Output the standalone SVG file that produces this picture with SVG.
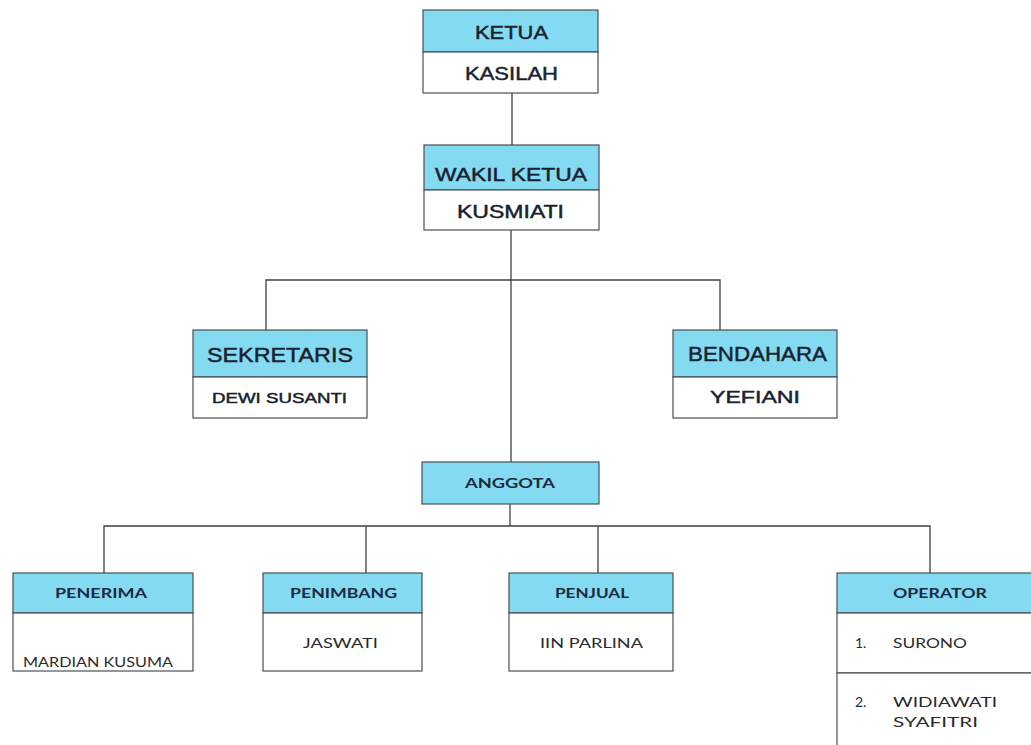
<svg xmlns="http://www.w3.org/2000/svg" width="1031" height="745" viewBox="0 0 1031 745">
<style>
.hd{fill:#84daf0;stroke:#4a4f55;stroke-width:1.2}
.bd{fill:#ffffff;stroke:#4a4f55;stroke-width:1.2}
.t1{font-family:"Liberation Sans",Arial,sans-serif;fill:#18212e;stroke:#18212e;stroke-width:0.45;text-anchor:middle}
.t2{font-family:Lato,"Open Sans",sans-serif;fill:#1b2a40;text-anchor:middle;font-weight:bold}
.t3{font-family:Lato,"Open Sans",sans-serif;fill:#2a2a2a}
.ln{stroke:#3f3f3f;stroke-width:1.3;fill:none}
</style>
<rect width="1031" height="745" fill="#ffffff"/>
<g id="connectors">
<path class="ln" d="M512 93V145"/>
<path class="ln" d="M511 230V462"/>
<path class="ln" d="M266 330V280H720V330"/>
<path class="ln" d="M510 504V526"/>
<path class="ln" d="M104 573V526H930V573"/>
<path class="ln" d="M366 526V573"/>
<path class="ln" d="M598 526V573"/>
</g>
<g id="ketua">
<rect class="hd" x="423" y="10" width="175" height="42"/>
<rect class="bd" x="423" y="52" width="175" height="41"/>
<text class="t1" x="511.5" y="39" font-size="18" textLength="73" lengthAdjust="spacingAndGlyphs">KETUA</text>
<text class="t1" x="511.5" y="80" font-size="18" textLength="93" lengthAdjust="spacingAndGlyphs">KASILAH</text>
</g>
<g id="wakil">
<rect class="hd" x="424" y="145" width="175" height="45"/>
<rect class="bd" x="424" y="190" width="175" height="40"/>
<text class="t1" x="511" y="181" font-size="18" textLength="152" lengthAdjust="spacingAndGlyphs">WAKIL KETUA</text>
<text class="t1" x="510.5" y="218" font-size="18" textLength="107" lengthAdjust="spacingAndGlyphs">KUSMIATI</text>
</g>
<g id="sekretaris">
<rect class="hd" x="193" y="330" width="174" height="47"/>
<rect class="bd" x="193" y="377" width="174" height="41"/>
<text class="t1" x="280" y="362" font-size="20" textLength="146" lengthAdjust="spacingAndGlyphs">SEKRETARIS</text>
<text class="t1" x="279.5" y="403" font-size="14" textLength="135" lengthAdjust="spacingAndGlyphs" stroke-width="0.3">DEWI SUSANTI</text>
</g>
<g id="bendahara">
<rect class="hd" x="673" y="330" width="164" height="47"/>
<rect class="bd" x="673" y="377" width="164" height="41"/>
<text class="t1" x="757.5" y="361" font-size="20" textLength="139" lengthAdjust="spacingAndGlyphs">BENDAHARA</text>
<text class="t1" x="755" y="403" font-size="17" textLength="90" lengthAdjust="spacingAndGlyphs">YEFIANI</text>
</g>
<g id="anggota">
<rect class="hd" x="422" y="462" width="177" height="42"/>
<text class="t2" x="510" y="488" font-size="14" textLength="90" lengthAdjust="spacingAndGlyphs">ANGGOTA</text>
</g>
<g id="penerima">
<rect class="hd" x="13" y="573" width="180" height="40"/>
<rect class="bd" x="13" y="613" width="180" height="58"/>
<text class="t2" x="101" y="598" font-size="14" textLength="92" lengthAdjust="spacingAndGlyphs">PENERIMA</text>
<text class="t3" x="23" y="667" font-size="14" textLength="150" lengthAdjust="spacingAndGlyphs">MARDIAN KUSUMA</text>
</g>
<g id="penimbang">
<rect class="hd" x="263" y="573" width="159" height="40"/>
<rect class="bd" x="263" y="613" width="159" height="58"/>
<text class="t2" x="343.5" y="598" font-size="14" textLength="107" lengthAdjust="spacingAndGlyphs">PENIMBANG</text>
<text class="t3" x="303" y="648" font-size="14" textLength="75" lengthAdjust="spacingAndGlyphs">JASWATI</text>
</g>
<g id="penjual">
<rect class="hd" x="509" y="573" width="164" height="40"/>
<rect class="bd" x="509" y="613" width="164" height="58"/>
<text class="t2" x="592" y="598" font-size="14" textLength="74" lengthAdjust="spacingAndGlyphs">PENJUAL</text>
<text class="t3" x="540" y="648" font-size="14" textLength="103" lengthAdjust="spacingAndGlyphs">IIN PARLINA</text>
</g>
<g id="operator">
<rect class="hd" x="837" y="573" width="200" height="40"/>
<rect class="bd" x="837" y="613" width="200" height="60"/>
<rect class="bd" x="837" y="673" width="200" height="80"/>
<text class="t2" x="940" y="598" font-size="14" textLength="94" lengthAdjust="spacingAndGlyphs">OPERATOR</text>
<text class="t3" x="855" y="648" font-size="14">1.</text>
<text class="t3" x="893" y="648" font-size="14" textLength="74" lengthAdjust="spacingAndGlyphs">SURONO</text>
<text class="t3" x="855" y="707" font-size="14">2.</text>
<text class="t3" x="893" y="707" font-size="14" textLength="104" lengthAdjust="spacingAndGlyphs">WIDIAWATI</text>
<text class="t3" x="893" y="727" font-size="14" textLength="85" lengthAdjust="spacingAndGlyphs">SYAFITRI</text>
</g>
</svg>
